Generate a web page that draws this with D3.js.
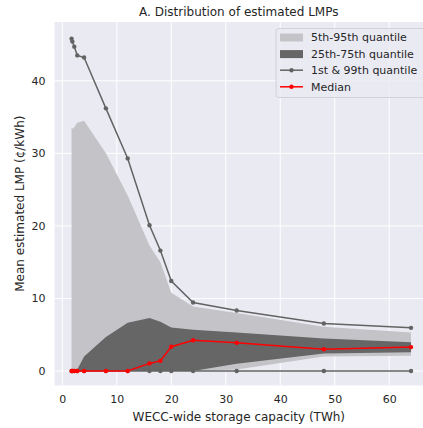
<!DOCTYPE html>
<html>
<head>
<meta charset="utf-8">
<script src="https://cdn.jsdelivr.net/npm/d3@7"></script>
<style>
  body { margin: 0; background: #fff; }
  svg { font-family: "DejaVu Sans", sans-serif; }
</style>
</head>
<body>
<svg id="chart" width="423" height="428"></svg>
<script>
// storage capacity (TWh) and LMP quantiles (cents/kWh)
const capacity = [1.7, 1.85, 2.2, 2.75, 4, 8, 12, 16, 18, 20, 24, 32, 48, 64];
const q01 = [0, 0, 0, 0, 0, 0, 0, 0, 0, 0, 0, 0, 0, 0];
const q05 = [0, 0, 0, 0, 0, 0, 0, 0, 0, 0, 0, 0.2, 2.0, 2.1];
const q25 = [0, 0, 0, 0, 0, 0, 0, 0, 0, 0, 0, 1.0, 2.4, 2.6];
const q50 = [0, 0, 0, 0, 0, 0, 0, 1.05, 1.4, 3.35, 4.25, 3.9, 3.0, 3.3];
const q75 = [0, 0, 0, 0.2, 2.0, 4.7, 6.65, 7.3, 6.8, 6.0, 5.7, 5.3, 4.5, 3.95];
const q95 = [33.6, 33.4, 33.6, 34.2, 34.5, 30.0, 24.2, 17.3, 15.0, 10.8, 8.9, 8.0, 6.1, 5.3];
const q99 = [45.8, 45.4, 44.7, 43.5, 43.2, 36.2, 29.3, 20.1, 16.6, 12.4, 9.45, 8.35, 6.55, 5.95];
const xTicks = [0, 10, 20, 30, 40, 50, 60];
const yTicks = [0, 10, 20, 30, 40];

const svg = d3.select("#chart");
const plot = {left: 54.6, right: 428, top: 22, bottom: 385.4};

const x = d3.scaleLinear().domain([-1.415, 67.115]).range([plot.left, plot.right]);
const y = d3.scaleLinear().domain([-1.98, 48.1]).range([plot.bottom, plot.top]);

// background
svg.append("rect")
    .attr("x", plot.left).attr("y", plot.top)
    .attr("width", plot.right - plot.left).attr("height", plot.bottom - plot.top)
    .attr("fill", "#eaeaf2");

// grid
svg.append("g").selectAll("line").data(xTicks).enter().append("line")
    .attr("x1", d => x(d)).attr("x2", d => x(d))
    .attr("y1", plot.top).attr("y2", plot.bottom)
    .attr("stroke", "#fff").attr("stroke-width", 1);
svg.append("g").selectAll("line").data(yTicks).enter().append("line")
    .attr("x1", plot.left).attr("x2", plot.right)
    .attr("y1", d => y(d)).attr("y2", d => y(d))
    .attr("stroke", "#fff").attr("stroke-width", 1);

// tick labels via axes, no tick marks or domain
const xAxis = svg.append("g")
    .attr("transform", `translate(0,${plot.bottom})`)
    .call(d3.axisBottom(x).tickValues(xTicks).tickSize(0).tickPadding(10));
const yAxis = svg.append("g")
    .attr("transform", `translate(${plot.left},0)`)
    .call(d3.axisLeft(y).tickValues(yTicks).tickSize(0).tickPadding(9));
[xAxis, yAxis].forEach(a => {
    a.select(".domain").remove();
    a.selectAll("text").attr("font-size", "11px").attr("fill", "#262626")
        .attr("font-family", "DejaVu Sans");
});

const idx = d3.range(capacity.length);

// bands
const area = (lo, hi) => d3.area()
    .x(i => x(capacity[i]))
    .y0(i => y(lo[i]))
    .y1(i => y(hi[i]));

svg.append("path").datum(idx)
    .attr("d", area(q05, q95))
    .attr("fill", "#c4c3c8");
svg.append("path").datum(idx)
    .attr("d", area(q25, q75))
    .attr("fill", "#666666");

// lines with markers
const line = vals => d3.line().x(i => x(capacity[i])).y(i => y(vals[i]));

function series(vals, color) {
    svg.append("path").datum(idx)
        .attr("d", line(vals))
        .attr("fill", "none")
        .attr("stroke", color)
        .attr("stroke-width", 1.5);
    svg.append("g").selectAll("circle").data(idx).enter().append("circle")
        .attr("cx", i => x(capacity[i]))
        .attr("cy", i => y(vals[i]))
        .attr("r", 2.2)
        .attr("fill", color);
}
series(q99, "#636363");
series(q01, "#636363");
series(q50, "#ff0000");

// legend
const legend = svg.append("g").attr("transform", "translate(276,28.5)");
legend.append("rect")
    .attr("width", 152).attr("height", 69).attr("rx", 3)
    .attr("fill", "#eaeaf2").attr("fill-opacity", 0.8)
    .attr("stroke", "#cccccc").attr("stroke-width", 0.8);

const items = [
    {label: "5th-95th quantile", type: "box", color: "#c4c3c8"},
    {label: "25th-75th quantile", type: "box", color: "#666666"},
    {label: "1st & 99th quantile", type: "line", color: "#636363"},
    {label: "Median", type: "line", color: "#ff0000"}
];
const rows = legend.selectAll("g.item").data(items).enter().append("g")
    .attr("class", "item")
    .attr("transform", (d, i) => `translate(0,${8.5 + i * 16.6})`);
rows.filter(d => d.type === "box").append("rect")
    .attr("x", 4).attr("y", -3.5).attr("width", 23).attr("height", 8)
    .attr("fill", d => d.color);
rows.filter(d => d.type === "line").append("line")
    .attr("x1", 4).attr("x2", 27).attr("y1", 0).attr("y2", 0)
    .attr("stroke", d => d.color).attr("stroke-width", 1.5);
rows.filter(d => d.type === "line").append("circle")
    .attr("cx", 15.5).attr("cy", 0).attr("r", 2.2)
    .attr("fill", d => d.color);
rows.append("text")
    .attr("x", 35).attr("y", 4)
    .attr("font-size", "11px").attr("fill", "#262626")
    .text(d => d.label);

// title and axis labels
svg.append("text")
    .attr("x", (plot.left + 423) / 2).attr("y", 16)
    .attr("text-anchor", "middle").attr("font-size", "12px").attr("fill", "#262626")
    .text("A. Distribution of estimated LMPs");
svg.append("text")
    .attr("x", (plot.left + 423) / 2).attr("y", 421)
    .attr("text-anchor", "middle").attr("font-size", "12px").attr("fill", "#262626")
    .text("WECC-wide storage capacity (TWh)");
svg.append("text")
    .attr("transform", `translate(24,${(plot.top + plot.bottom) / 2}) rotate(-90)`)
    .attr("text-anchor", "middle").attr("font-size", "12px").attr("fill", "#262626")
    .text("Mean estimated LMP (¢/kWh)");
</script>
</body>
</html>
